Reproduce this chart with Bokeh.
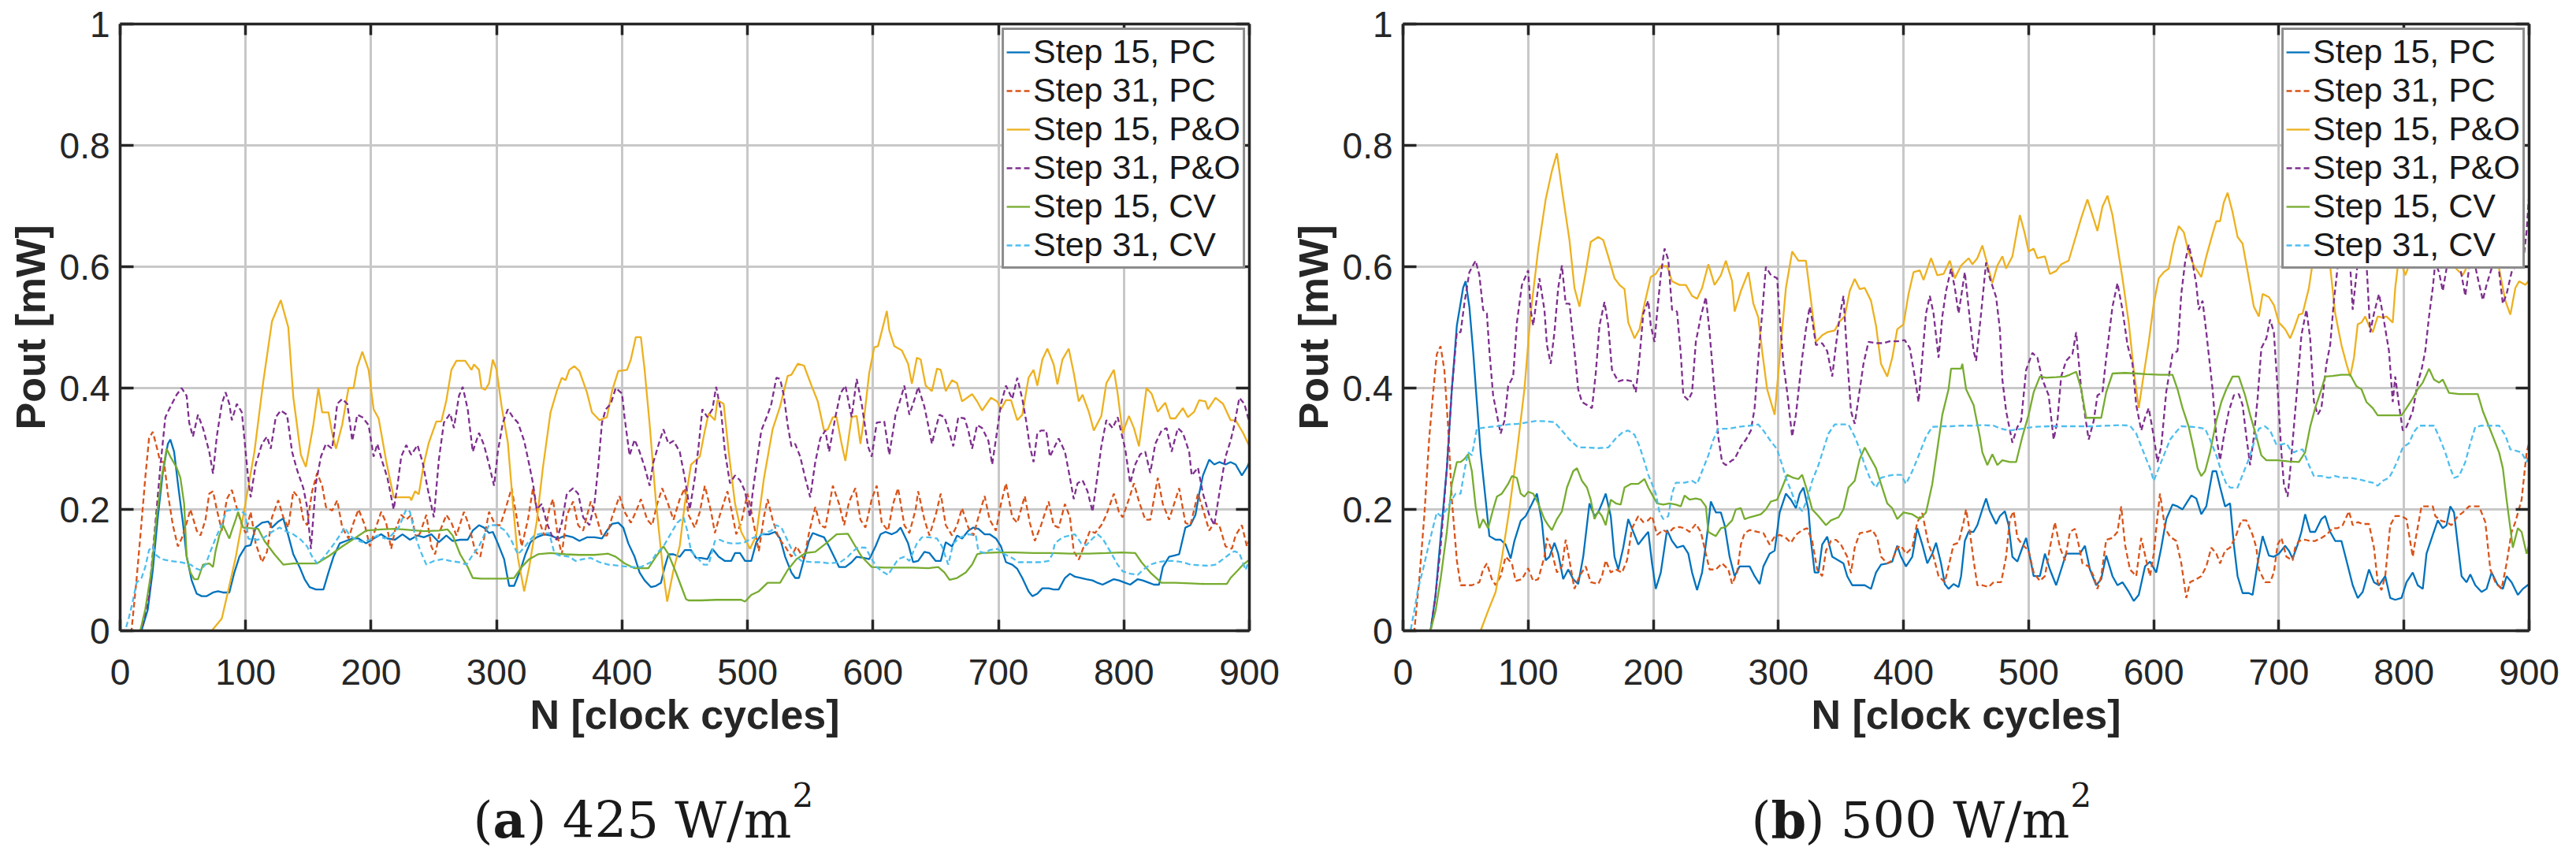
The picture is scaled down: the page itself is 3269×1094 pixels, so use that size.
from bokeh.plotting import figure
from bokeh.models import Range1d, FixedTicker, LinearAxis, Legend, LegendItem, Label
from bokeh.layouts import row, column
from bokeh.embed import file_html
from bokeh.resources import INLINE

# ---------------- data (N [clock cycles], Pout [mW]) ----------------
X_TICKS = [0, 100, 200, 300, 400, 500, 600, 700, 800, 900]
Y_TICKS = [0, 0.2, 0.4, 0.6, 0.8, 1]
Y_TICK_LABELS = {0: "0", 1: "1"}
SERIES_LABELS = ["Step 15, PC", "Step 31, PC", "Step 15, P&O", "Step 31, P&O", "Step 15, CV", "Step 31, CV"]
CAPTION_A = ("a", ") 425 W/m", "2")
CAPTION_B = ("b", ") 500 W/m", "2")

# ---- panel (a) 425 W/m2 ----
A_PC15 = [(0,0),(17,0),(22,0.035),(26,0.1),(30,0.187),(34,0.261),(38,0.308),(40,0.315),(43,0.295),(46,0.243),(50,0.178),(53,0.122),(57,0.083),(61,0.061),(65,0.057),(69,0.057),(74,0.063),(78,0.065),(82,0.063),(87,0.063),(91,0.096),(95,0.122),(100,0.139),(104,0.141),(108,0.17),(113,0.178),(118,0.18),(121,0.17),(126,0.18),(130,0.185),(134,0.157),(138,0.126),(143,0.105),(147,0.085),(151,0.072),(156,0.068),(162,0.068),(166,0.096),(170,0.122),(175,0.144),(180,0.148),(185,0.152),(190,0.152),(196,0.144),(202,0.152),(208,0.159),(213,0.152),(219,0.15),(225,0.159),(231,0.15),(237,0.157),(242,0.154),(248,0.159),(254,0.146),(260,0.157),(265,0.148),(271,0.15),(277,0.15),(281,0.165),(286,0.174),(290,0.17),(294,0.161),(297,0.163),(301,0.144),(306,0.118),(310,0.074),(314,0.074),(319,0.1),(323,0.126),(327,0.146),(332,0.154),(338,0.159),(343,0.157),(349,0.152),(355,0.157),(361,0.154),(366,0.148),(372,0.154),(378,0.154),(384,0.152),(388,0.165),(392,0.176),(397,0.178),(401,0.17),(405,0.144),(410,0.122),(414,0.096),(418,0.083),(423,0.072),(427,0.074),(431,0.079),(434,0.105),(437,0.126),(441,0.126),(446,0.122),(450,0.133),(455,0.133),(459,0.12),(463,0.12),(468,0.118),(472,0.135),(477,0.122),(482,0.115),(487,0.115),(490,0.128),(494,0.128),(498,0.115),(503,0.115),(507,0.146),(511,0.159),(517,0.159),(522,0.163),(526,0.152),(530,0.122),(535,0.096),(538,0.087),(541,0.087),(545,0.118),(549,0.148),(552,0.161),(557,0.157),(561,0.154),(565,0.139),(570,0.118),(573,0.105),(578,0.105),(583,0.113),(587,0.122),(593,0.12),(597,0.118),(602,0.139),(606,0.159),(610,0.163),(615,0.159),(619,0.163),(622,0.17),(625,0.157),(628,0.144),(632,0.113),(636,0.115),(641,0.13),(645,0.128),(650,0.115),(654,0.115),(658,0.146),(663,0.139),(667,0.157),(671,0.152),(676,0.165),(680,0.17),(684,0.168),(689,0.159),(693,0.159),(698,0.152),(702,0.139),(706,0.113),(711,0.109),(715,0.102),(719,0.087),(724,0.065),(727,0.057),(731,0.061),(735,0.07),(740,0.07),(744,0.068),(748,0.068),(753,0.087),(757,0.094),(761,0.089),(766,0.087),(770,0.085),(775,0.083),(779,0.079),(783,0.076),(788,0.081),(792,0.085),(796,0.083),(801,0.079),(805,0.076),(811,0.085),(815,0.083),(820,0.079),(824,0.076),(828,0.076),(831,0.105),(836,0.122),(840,0.124),(844,0.126),(849,0.17),(853,0.174),(857,0.191),(860,0.226),(863,0.256),(868,0.282),(872,0.274),(876,0.278),(881,0.274),(885,0.278),(889,0.274),(894,0.256),(898,0.269),(900,0.278)]

A_PC31 = [(0,0),(9,0),(13,0.083),(17,0.178),(20,0.252),(23,0.317),(26,0.328),(29,0.304),(32,0.278),(35,0.278),(38,0.226),(42,0.174),(46,0.139),(49,0.152),(53,0.178),(56,0.2),(61,0.165),(64,0.157),(68,0.183),(71,0.226),(74,0.23),(77,0.2),(81,0.165),(85,0.217),(89,0.232),(92,0.209),(97,0.174),(100,0.161),(104,0.196),(108,0.144),(113,0.113),(117,0.13),(121,0.187),(126,0.215),(130,0.187),(134,0.17),(138,0.23),(143,0.217),(146,0.183),(149,0.174),(153,0.23),(157,0.26),(161,0.239),(164,0.204),(169,0.198),(173,0.215),(177,0.17),(182,0.152),(186,0.178),(190,0.2),(195,0.174),(199,0.139),(203,0.165),(208,0.196),(212,0.178),(216,0.135),(219,0.165),(224,0.191),(228,0.183),(232,0.191),(236,0.152),(239,0.161),(244,0.191),(248,0.139),(251,0.126),(255,0.165),(260,0.191),(264,0.178),(268,0.157),(274,0.196),(278,0.174),(283,0.131),(287,0.122),(290,0.152),(294,0.196),(299,0.174),(303,0.174),(307,0.2),(312,0.235),(316,0.187),(320,0.139),(325,0.183),(329,0.235),(333,0.187),(338,0.157),(342,0.2),(345,0.217),(349,0.152),(352,0.126),(356,0.191),(361,0.213),(365,0.174),(369,0.165),(375,0.213),(379,0.191),(384,0.157),(388,0.157),(392,0.187),(398,0.222),(402,0.196),(407,0.178),(411,0.196),(415,0.217),(420,0.183),(424,0.174),(428,0.209),(432,0.235),(436,0.213),(441,0.183),(446,0.217),(450,0.235),(453,0.191),(458,0.17),(462,0.196),(466,0.239),(471,0.196),(474,0.161),(478,0.191),(484,0.23),(488,0.191),(491,0.159),(495,0.178),(500,0.226),(504,0.187),(509,0.131),(513,0.187),(516,0.217),(520,0.183),(525,0.152),(530,0.139),(535,0.122),(539,0.139),(545,0.118),(549,0.161),(554,0.204),(558,0.174),(562,0.17),(568,0.239),(573,0.209),(577,0.174),(581,0.213),(586,0.235),(590,0.183),(594,0.17),(599,0.217),(603,0.239),(607,0.178),(612,0.165),(616,0.209),(620,0.235),(625,0.174),(629,0.161),(634,0.2),(636,0.23),(641,0.183),(645,0.157),(650,0.191),(654,0.226),(658,0.174),(663,0.157),(667,0.174),(671,0.202),(676,0.17),(680,0.157),(684,0.187),(689,0.222),(693,0.183),(698,0.165),(702,0.209),(706,0.243),(711,0.187),(715,0.178),(721,0.222),(725,0.178),(729,0.148),(734,0.174),(740,0.213),(744,0.174),(748,0.17),(753,0.209),(757,0.187),(760,0.131),(764,0.117),(769,0.144),(773,0.165),(777,0.161),(782,0.174),(786,0.191),(792,0.226),(796,0.196),(799,0.187),(804,0.217),(808,0.243),(812,0.213),(817,0.183),(821,0.183),(827,0.252),(831,0.209),(836,0.183),(840,0.209),(844,0.235),(849,0.178),(853,0.174),(859,0.226),(863,0.2),(868,0.165),(872,0.178),(876,0.174),(881,0.139),(886,0.135),(889,0.157),(894,0.174),(898,0.139),(900,0.15)]

A_PO15 = [(0,0),(73,0),(81,0.02),(86,0.065),(92,0.12),(99,0.2),(107,0.295),(114,0.41),(121,0.51),(128,0.545),(134,0.5),(138,0.385),(144,0.29),(148,0.27),(154,0.34),(158,0.4),(161,0.36),(166,0.36),(169,0.325),(172,0.3),(177,0.34),(182,0.4),(186,0.4),(189,0.435),(193,0.46),(198,0.43),(202,0.365),(206,0.35),(212,0.28),(218,0.22),(222,0.22),(231,0.22),(232,0.215),(235,0.23),(238,0.225),(242,0.275),(246,0.31),(252,0.345),(256,0.345),(260,0.38),(264,0.43),(268,0.445),(275,0.445),(280,0.43),(282,0.439),(286,0.43),(288,0.4),(291,0.397),(294,0.408),(297,0.447),(300,0.43),(304,0.37),(309,0.31),(313,0.21),(317,0.12),(322,0.065),(326,0.105),(332,0.18),(337,0.27),(343,0.36),(348,0.395),(352,0.417),(355,0.413),(358,0.43),(362,0.436),(366,0.428),(372,0.393),(376,0.36),(382,0.347),(388,0.352),(392,0.395),(397,0.428),(404,0.43),(407,0.447),(411,0.484),(415,0.484),(418,0.43),(422,0.34),(427,0.213),(433,0.092),(436,0.048),(441,0.1),(446,0.14),(450,0.209),(455,0.274),(462,0.287),(466,0.33),(469,0.358),(474,0.347),(476,0.38),(481,0.374),(485,0.295),(490,0.21),(495,0.163),(502,0.135),(507,0.157),(513,0.25),(520,0.332),(526,0.37),(532,0.42),(535,0.422),(540,0.44),(545,0.437),(551,0.404),(556,0.378),(561,0.33),(564,0.332),(568,0.352),(571,0.352),(575,0.308),(578,0.28),(583,0.352),(587,0.354),(590,0.308),(593,0.352),(597,0.425),(601,0.467),(604,0.469),(609,0.51),(611,0.527),(613,0.495),(617,0.469),(623,0.462),(628,0.44),(631,0.407),(635,0.45),(638,0.447),(642,0.404),(647,0.395),(651,0.432),(654,0.43),(658,0.395),(663,0.413),(667,0.408),(671,0.378),(679,0.39),(683,0.378),(687,0.363),(694,0.384),(699,0.378),(702,0.365),(706,0.38),(710,0.38),(715,0.347),(719,0.356),(724,0.417),(728,0.43),(731,0.404),(735,0.447),(739,0.465),(744,0.439),(747,0.406),(751,0.447),(756,0.465),(760,0.425),(764,0.378),(767,0.389),(772,0.361),(776,0.33),(782,0.354),(786,0.408),(792,0.43),(795,0.391),(799,0.326),(804,0.354),(808,0.334),(812,0.304),(818,0.4),(822,0.391),(827,0.361),(833,0.376),(837,0.35),(841,0.35),(847,0.367),(851,0.352),(856,0.361),(860,0.38),(865,0.378),(867,0.365),(873,0.384),(879,0.374),(885,0.347),(889,0.347),(895,0.326),(900,0.304)]

A_PO31 = [(0,0),(17,0),(23,0.057),(27,0.152),(32,0.27),(36,0.352),(40,0.369),(45,0.389),(49,0.4),(53,0.387),(55,0.343),(58,0.32),(62,0.356),(66,0.334),(71,0.295),(74,0.259),(77,0.32),(81,0.374),(84,0.393),(87,0.374),(89,0.347),(93,0.374),(97,0.36),(100,0.295),(102,0.252),(104,0.22),(108,0.274),(113,0.308),(117,0.32),(120,0.3),(124,0.352),(128,0.363),(133,0.356),(137,0.295),(141,0.265),(146,0.235),(149,0.204),(152,0.135),(156,0.243),(160,0.287),(164,0.308),(169,0.3),(173,0.374),(177,0.382),(181,0.374),(185,0.313),(189,0.356),(193,0.352),(198,0.339),(202,0.287),(205,0.308),(209,0.278),(213,0.252),(218,0.2),(221,0.239),(224,0.287),(228,0.306),(232,0.29),(237,0.306),(241,0.278),(245,0.235),(250,0.187),(254,0.282),(258,0.343),(263,0.358),(266,0.334),(270,0.387),(273,0.402),(277,0.365),(281,0.295),(286,0.326),(290,0.306),(294,0.274),(298,0.239),(301,0.295),(305,0.343),(309,0.365),(313,0.352),(317,0.343),(322,0.313),(326,0.274),(329,0.243),(332,0.2),(336,0.209),(340,0.178),(344,0.157),(348,0.15),(352,0.178),(356,0.226),(361,0.235),(365,0.226),(369,0.187),(374,0.174),(378,0.209),(381,0.27),(384,0.343),(387,0.365),(391,0.374),(395,0.4),(400,0.391),(402,0.352),(406,0.289),(410,0.315),(414,0.295),(418,0.27),(422,0.239),(425,0.278),(430,0.313),(433,0.332),(437,0.308),(441,0.313),(446,0.295),(450,0.252),(454,0.2),(458,0.252),(461,0.304),(464,0.365),(468,0.352),(472,0.365),(475,0.402),(479,0.36),(482,0.295),(486,0.243),(490,0.256),(494,0.248),(498,0.23),(502,0.187),(504,0.226),(508,0.287),(511,0.33),(516,0.356),(519,0.374),(523,0.417),(526,0.415),(529,0.387),(532,0.339),(535,0.304),(538,0.308),(542,0.287),(546,0.252),(550,0.22),(554,0.278),(558,0.317),(562,0.33),(565,0.295),(570,0.352),(574,0.391),(578,0.404),(583,0.352),(587,0.415),(591,0.374),(596,0.304),(599,0.287),(603,0.343),(609,0.345),(613,0.29),(618,0.356),(622,0.382),(625,0.404),(629,0.356),(634,0.387),(636,0.402),(641,0.369),(644,0.339),(647,0.308),(650,0.334),(653,0.356),(657,0.352),(661,0.326),(664,0.304),(668,0.352),(673,0.35),(676,0.33),(679,0.3),(683,0.339),(687,0.334),(692,0.313),(695,0.274),(699,0.33),(702,0.374),(706,0.404),(711,0.382),(715,0.417),(719,0.382),(722,0.347),(725,0.304),(728,0.278),(731,0.326),(734,0.33),(738,0.33),(741,0.287),(744,0.3),(748,0.317),(753,0.295),(757,0.252),(760,0.217),(763,0.243),(767,0.248),(771,0.23),(775,0.196),(777,0.226),(782,0.304),(786,0.347),(791,0.334),(795,0.352),(798,0.326),(801,0.3),(805,0.243),(809,0.274),(813,0.291),(817,0.295),(821,0.26),(825,0.308),(830,0.33),(834,0.334),(838,0.295),(843,0.334),(847,0.326),(852,0.295),(854,0.256),(859,0.269),(863,0.226),(868,0.191),(872,0.174),(876,0.226),(881,0.287),(885,0.313),(888,0.339),(892,0.384),(896,0.374),(900,0.343)]

A_CV15 = [(0,0),(16,0),(20,0.035),(25,0.1),(29,0.187),(33,0.252),(37,0.3),(40,0.287),(45,0.269),(48,0.252),(51,0.209),(53,0.122),(56,0.096),(59,0.085),(62,0.085),(66,0.109),(71,0.111),(74,0.105),(76,0.131),(79,0.157),(82,0.174),(87,0.152),(89,0.165),(92,0.183),(94,0.196),(98,0.17),(104,0.169),(110,0.168),(115,0.148),(123,0.126),(130,0.109),(138,0.111),(147,0.111),(157,0.111),(167,0.124),(177,0.139),(188,0.154),(196,0.165),(208,0.167),(219,0.168),(231,0.166),(242,0.164),(254,0.165),(261,0.167),(265,0.157),(271,0.126),(277,0.105),(281,0.087),(288,0.086),(297,0.086),(306,0.086),(314,0.087),(320,0.105),(326,0.118),(333,0.126),(343,0.128),(355,0.126),(366,0.125),(378,0.125),(389,0.127),(395,0.122),(402,0.111),(410,0.103),(421,0.103),(427,0.122),(433,0.139),(437,0.126),(443,0.096),(447,0.074),(451,0.052),(453,0.05),(463,0.05),(475,0.051),(487,0.051),(495,0.051),(498,0.048),(503,0.059),(509,0.065),(516,0.079),(526,0.079),(532,0.1),(539,0.118),(546,0.128),(554,0.13),(562,0.143),(571,0.159),(580,0.16),(586,0.139),(591,0.122),(599,0.105),(609,0.104),(620,0.104),(632,0.104),(644,0.103),(652,0.105),(657,0.096),(661,0.084),(667,0.087),(674,0.096),(679,0.109),(683,0.126),(687,0.128),(699,0.129),(713,0.129),(728,0.128),(743,0.128),(757,0.127),(772,0.127),(786,0.128),(798,0.129),(809,0.128),(814,0.113),(821,0.096),(830,0.079),(841,0.079),(853,0.078),(865,0.077),(882,0.077),(885,0.087),(891,0.1),(895,0.109),(900,0.117)]

A_CV31 = [(0,0),(4,0),(7,0.022),(10,0.048),(13,0.079),(17,0.087),(20,0.105),(23,0.133),(26,0.139),(29,0.124),(33,0.118),(40,0.115),(48,0.113),(52,0.111),(56,0.109),(61,0.102),(64,0.1),(68,0.109),(72,0.131),(76,0.152),(81,0.176),(85,0.198),(89,0.199),(95,0.2),(100,0.191),(102,0.152),(105,0.15),(110,0.15),(115,0.154),(121,0.163),(127,0.17),(133,0.163),(138,0.159),(144,0.15),(149,0.139),(153,0.122),(157,0.111),(162,0.12),(166,0.131),(170,0.142),(175,0.157),(179,0.17),(183,0.157),(188,0.15),(193,0.146),(199,0.15),(205,0.157),(211,0.152),(216,0.157),(222,0.17),(228,0.2),(231,0.196),(235,0.157),(239,0.133),(244,0.109),(250,0.115),(257,0.118),(263,0.115),(270,0.113),(276,0.109),(280,0.122),(286,0.139),(290,0.157),(294,0.174),(299,0.174),(303,0.17),(307,0.165),(312,0.148),(314,0.139),(317,0.126),(322,0.137),(326,0.148),(330,0.157),(335,0.16),(342,0.161),(346,0.128),(350,0.124),(358,0.122),(363,0.115),(369,0.118),(375,0.12),(382,0.113),(389,0.109),(398,0.107),(407,0.105),(415,0.105),(423,0.113),(427,0.126),(433,0.139),(438,0.157),(444,0.178),(449,0.187),(452,0.165),(455,0.131),(461,0.118),(465,0.109),(469,0.109),(474,0.148),(478,0.15),(482,0.146),(487,0.144),(493,0.144),(498,0.146),(503,0.152),(509,0.157),(514,0.161),(519,0.165),(523,0.174),(527,0.17),(530,0.157),(535,0.135),(539,0.122),(543,0.115),(551,0.113),(558,0.113),(565,0.111),(574,0.113),(580,0.122),(584,0.131),(588,0.137),(594,0.137),(599,0.118),(603,0.105),(607,0.098),(612,0.092),(616,0.105),(620,0.118),(625,0.122),(629,0.115),(635,0.144),(639,0.154),(645,0.154),(651,0.152),(655,0.139),(660,0.109),(664,0.144),(670,0.154),(676,0.159),(682,0.157),(684,0.131),(689,0.128),(693,0.133),(699,0.135),(705,0.126),(711,0.12),(716,0.113),(725,0.113),(734,0.113),(740,0.115),(743,0.126),(745,0.144),(751,0.154),(757,0.157),(761,0.159),(766,0.144),(770,0.141),(775,0.152),(779,0.159),(783,0.152),(789,0.131),(795,0.109),(799,0.098),(805,0.094),(811,0.092),(815,0.1),(821,0.109),(827,0.113),(833,0.115),(840,0.115),(847,0.113),(853,0.109),(860,0.108),(868,0.107),(873,0.109),(879,0.118),(884,0.126),(888,0.131),(892,0.128),(897,0.1),(900,0.118)]

# ---- panel (b) 500 W/m2 ----
B_PC15 = [(0,0),(22,0),(26,0.059),(30,0.153),(35,0.268),(39,0.398),(43,0.503),(48,0.565),(50,0.576),(53,0.534),(56,0.461),(59,0.377),(62,0.294),(66,0.216),(69,0.156),(74,0.15),(78,0.15),(82,0.142),(86,0.119),(89,0.148),(94,0.181),(98,0.189),(102,0.205),(107,0.226),(111,0.179),(114,0.116),(117,0.122),(121,0.145),(124,0.127),(128,0.085),(132,0.101),(136,0.085),(140,0.077),(144,0.122),(149,0.21),(153,0.189),(156,0.195),(159,0.21),(162,0.226),(166,0.189),(169,0.122),(172,0.101),(176,0.137),(180,0.184),(185,0.158),(188,0.142),(192,0.153),(196,0.163),(199,0.111),(202,0.069),(206,0.096),(211,0.166),(215,0.148),(219,0.137),(224,0.14),(228,0.127),(231,0.096),(235,0.067),(239,0.096),(243,0.158),(246,0.213),(250,0.195),(254,0.195),(257,0.174),(261,0.122),(265,0.09),(269,0.106),(273,0.106),(277,0.106),(281,0.09),(285,0.077),(288,0.106),(293,0.127),(297,0.132),(301,0.195),(306,0.226),(310,0.216),(314,0.202),(317,0.226),(320,0.236),(324,0.2),(326,0.148),(329,0.096),(332,0.096),(335,0.142),(339,0.155),(343,0.122),(348,0.116),(352,0.111),(355,0.09),(359,0.075),(363,0.075),(369,0.075),(374,0.069),(378,0.096),(382,0.109),(387,0.111),(391,0.114),(395,0.14),(398,0.122),(402,0.106),(407,0.122),(411,0.169),(415,0.142),(419,0.111),(423,0.127),(426,0.145),(430,0.111),(433,0.077),(436,0.069),(440,0.077),(444,0.072),(446,0.09),(449,0.148),(452,0.163),(456,0.163),(459,0.174),(463,0.2),(466,0.218),(469,0.197),(474,0.176),(477,0.189),(481,0.197),(484,0.174),(487,0.122),(491,0.114),(495,0.137),(498,0.153),(501,0.122),(504,0.09),(509,0.09),(513,0.127),(517,0.101),(522,0.075),(526,0.101),(530,0.127),(536,0.127),(541,0.127),(545,0.14),(549,0.101),(554,0.075),(558,0.085),(562,0.124),(567,0.09),(571,0.075),(575,0.08),(580,0.064),(584,0.049),(588,0.059),(593,0.106),(597,0.114),(602,0.096),(606,0.137),(610,0.184),(615,0.208),(619,0.205),(623,0.2),(626,0.21),(630,0.223),(634,0.218),(638,0.192),(642,0.205),(647,0.263),(650,0.263),(653,0.237),(657,0.205),(661,0.21),(664,0.142),(667,0.09),(671,0.062),(676,0.062),(679,0.059),(683,0.111),(687,0.156),(692,0.124),(696,0.122),(700,0.127),(705,0.14),(708,0.132),(711,0.119),(715,0.142),(718,0.163),(721,0.192),(725,0.163),(729,0.163),(734,0.184),(737,0.189),(741,0.163),(745,0.148),(750,0.148),(754,0.116),(759,0.075),(763,0.054),(767,0.064),(772,0.101),(776,0.08),(780,0.075),(785,0.09),(789,0.054),(793,0.051),(798,0.054),(802,0.08),(807,0.096),(811,0.075),(815,0.069),(818,0.127),(823,0.158),(827,0.182),(831,0.169),(834,0.174),(837,0.205),(840,0.195),(843,0.142),(846,0.09),(850,0.08),(853,0.093),(857,0.075),(862,0.064),(866,0.069),(870,0.096),(875,0.075),(879,0.069),(882,0.09),(886,0.08),(891,0.059),(895,0.069),(900,0.077)]

B_PC31 = [(0,0),(9,0),(13,0.085),(17,0.19),(21,0.32),(25,0.414),(27,0.456),(30,0.469),(33,0.43),(36,0.336),(39,0.216),(43,0.116),(46,0.075),(51,0.075),(55,0.075),(61,0.08),(64,0.101),(67,0.111),(71,0.085),(74,0.075),(78,0.09),(82,0.122),(87,0.111),(90,0.082),(95,0.085),(100,0.103),(104,0.082),(108,0.085),(113,0.122),(115,0.153),(118,0.137),(123,0.096),(127,0.106),(130,0.15),(133,0.116),(137,0.069),(141,0.09),(146,0.106),(150,0.08),(156,0.077),(159,0.09),(162,0.116),(166,0.096),(170,0.101),(175,0.096),(179,0.116),(183,0.169),(188,0.189),(192,0.179),(196,0.182),(199,0.189),(203,0.158),(208,0.166),(212,0.161),(216,0.169),(221,0.171),(225,0.169),(229,0.163),(234,0.176),(238,0.163),(242,0.127),(245,0.101),(250,0.101),(255,0.111),(260,0.101),(263,0.077),(267,0.096),(270,0.142),(273,0.161),(277,0.166),(283,0.163),(288,0.161),(293,0.142),(297,0.155),(301,0.158),(306,0.153),(310,0.145),(314,0.158),(319,0.166),(323,0.169),(327,0.148),(331,0.101),(335,0.09),(338,0.132),(342,0.148),(346,0.15),(350,0.142),(355,0.122),(358,0.095),(361,0.137),(365,0.161),(371,0.163),(375,0.166),(379,0.153),(382,0.122),(387,0.111),(391,0.116),(395,0.137),(398,0.14),(402,0.127),(407,0.137),(411,0.179),(415,0.194),(420,0.142),(424,0.122),(428,0.09),(433,0.08),(436,0.106),(440,0.142),(444,0.145),(448,0.179),(450,0.2),(453,0.163),(456,0.116),(459,0.075),(463,0.075),(468,0.072),(472,0.08),(478,0.08),(482,0.122),(485,0.184),(488,0.197),(491,0.153),(495,0.142),(500,0.132),(504,0.096),(509,0.082),(513,0.09),(517,0.137),(521,0.179),(525,0.137),(529,0.116),(533,0.163),(537,0.168),(540,0.142),(543,0.111),(548,0.106),(552,0.09),(555,0.069),(558,0.09),(562,0.15),(567,0.153),(571,0.163),(574,0.205),(577,0.142),(581,0.101),(586,0.09),(590,0.153),(594,0.116),(597,0.09),(600,0.127),(603,0.189),(605,0.226),(609,0.169),(613,0.155),(618,0.148),(622,0.111),(626,0.054),(629,0.08),(634,0.085),(638,0.09),(642,0.106),(646,0.137),(650,0.127),(653,0.111),(657,0.132),(661,0.137),(666,0.158),(670,0.182),(674,0.182),(679,0.158),(682,0.137),(684,0.101),(689,0.08),(693,0.08),(696,0.096),(699,0.142),(702,0.153),(706,0.122),(711,0.116),(713,0.137),(716,0.148),(721,0.15),(725,0.148),(729,0.148),(734,0.153),(738,0.158),(743,0.169),(747,0.169),(751,0.174),(756,0.197),(759,0.174),(763,0.179),(767,0.176),(772,0.176),(776,0.137),(779,0.08),(782,0.067),(785,0.09),(789,0.174),(793,0.189),(798,0.189),(802,0.184),(807,0.122),(809,0.148),(814,0.205),(818,0.205),(823,0.205),(825,0.189),(830,0.181),(834,0.179),(838,0.174),(843,0.189),(847,0.195),(852,0.205),(856,0.205),(860,0.205),(865,0.179),(869,0.101),(873,0.08),(878,0.069),(882,0.111),(886,0.163),(889,0.179),(894,0.216),(898,0.294),(900,0.31)]

B_PO15 = [(0,0),(62,0),(68,0.033),(74,0.064),(79,0.12),(85,0.2),(91,0.294),(97,0.398),(102,0.523),(108,0.628),(114,0.711),(119,0.758),(123,0.787),(127,0.727),(133,0.644),(137,0.565),(141,0.534),(146,0.591),(150,0.641),(156,0.649),(160,0.644),(164,0.617),(169,0.581),(173,0.57),(177,0.563),(180,0.508),(185,0.482),(189,0.497),(193,0.539),(198,0.583),(202,0.588),(206,0.601),(211,0.601),(215,0.576),(221,0.57),(226,0.57),(231,0.552),(235,0.547),(239,0.565),(244,0.604),(249,0.57),(254,0.586),(258,0.61),(263,0.576),(265,0.526),(270,0.56),(276,0.591),(280,0.539),(284,0.516),(287,0.461),(291,0.398),(297,0.356),(301,0.45),(306,0.565),(311,0.625),(316,0.61),(322,0.61),(326,0.545),(330,0.476),(335,0.487),(339,0.492),(345,0.495),(349,0.51),(353,0.518),(357,0.56),(361,0.58),(365,0.563),(369,0.565),(374,0.544),(378,0.503),(382,0.44),(387,0.419),(391,0.45),(395,0.497),(400,0.505),(404,0.555),(408,0.591),(413,0.594),(416,0.578),(422,0.614),(427,0.586),(432,0.588),(437,0.61),(441,0.581),(446,0.602),(452,0.614),(455,0.604),(459,0.614),(463,0.635),(466,0.612),(471,0.573),(475,0.602),(479,0.617),(482,0.597),(487,0.617),(493,0.685),(497,0.654),(500,0.625),(504,0.63),(507,0.614),(513,0.617),(517,0.588),(522,0.593),(526,0.604),(532,0.61),(536,0.638),(542,0.68),(547,0.711),(551,0.685),(555,0.659),(559,0.699),(563,0.717),(567,0.685),(571,0.633),(575,0.581),(580,0.508),(584,0.43),(588,0.367),(591,0.409),(596,0.476),(600,0.539),(604,0.581),(608,0.591),(612,0.597),(616,0.638),(620,0.667),(624,0.657),(628,0.623),(632,0.602),(638,0.583),(642,0.617),(647,0.654),(650,0.675),(653,0.675),(656,0.706),(659,0.722),(663,0.69),(667,0.649),(671,0.638),(676,0.581),(680,0.534),(684,0.518),(687,0.555),(692,0.55),(696,0.537),(700,0.508),(705,0.497),(709,0.482),(712,0.497),(716,0.521),(719,0.523),(724,0.565),(727,0.607),(730,0.64),(735,0.66),(740,0.62),(745,0.523),(750,0.471),(754,0.44),(757,0.419),(760,0.45),(763,0.505),(766,0.508),(769,0.518),(772,0.503),(775,0.492),(779,0.518),(783,0.516),(786,0.518),(791,0.508),(793,0.565),(796,0.617),(801,0.586),(804,0.602),(812,0.64),(820,0.66),(830,0.62),(840,0.6),(847,0.586),(852,0.607),(860,0.62),(870,0.62),(876,0.597),(881,0.544),(885,0.521),(889,0.565),(892,0.576),(897,0.57),(900,0.578)]

B_PO31 = [(0,0),(22,0),(26,0.059),(30,0.137),(35,0.268),(39,0.398),(43,0.492),(46,0.492),(49,0.539),(53,0.591),(58,0.61),(61,0.586),(64,0.529),(67,0.523),(69,0.461),(72,0.388),(75,0.356),(78,0.325),(81,0.346),(84,0.403),(88,0.419),(91,0.508),(95,0.57),(100,0.594),(102,0.529),(104,0.503),(109,0.581),(113,0.529),(115,0.471),(118,0.44),(121,0.492),(124,0.565),(127,0.602),(130,0.539),(133,0.539),(137,0.461),(140,0.398),(143,0.377),(147,0.372),(151,0.367),(154,0.424),(157,0.503),(161,0.542),(164,0.503),(167,0.43),(172,0.411),(177,0.414),(183,0.411),(186,0.393),(189,0.45),(192,0.523),(196,0.544),(198,0.503),(201,0.476),(203,0.523),(206,0.586),(209,0.63),(212,0.612),(215,0.529),(219,0.526),(222,0.456),(224,0.388),(228,0.38),(231,0.393),(234,0.476),(238,0.518),(242,0.55),(245,0.492),(249,0.393),(252,0.319),(255,0.278),(258,0.273),(263,0.281),(265,0.283),(270,0.304),(274,0.315),(278,0.33),(281,0.367),(284,0.45),(287,0.523),(290,0.6),(294,0.586),(299,0.581),(301,0.518),(304,0.44),(307,0.393),(311,0.32),(314,0.356),(319,0.45),(322,0.497),(325,0.534),(327,0.513),(330,0.471),(335,0.474),(339,0.461),(343,0.419),(346,0.471),(349,0.518),(352,0.552),(355,0.45),(358,0.362),(361,0.341),(364,0.383),(368,0.44),(372,0.476),(378,0.474),(384,0.474),(389,0.477),(395,0.477),(401,0.479),(405,0.466),(409,0.419),(412,0.377),(415,0.45),(418,0.523),(421,0.552),(424,0.523),(428,0.45),(431,0.518),(434,0.56),(438,0.597),(441,0.565),(444,0.523),(449,0.591),(453,0.513),(456,0.461),(458,0.445),(462,0.523),(466,0.607),(469,0.581),(474,0.55),(477,0.497),(479,0.414),(482,0.362),(487,0.31),(491,0.336),(494,0.346),(498,0.43),(503,0.458),(507,0.45),(511,0.414),(516,0.388),(520,0.315),(523,0.346),(526,0.419),(530,0.445),(535,0.456),(538,0.492),(542,0.398),(545,0.356),(548,0.315),(552,0.346),(555,0.388),(559,0.393),(562,0.45),(567,0.534),(571,0.573),(575,0.529),(579,0.471),(583,0.44),(586,0.372),(590,0.33),(593,0.351),(596,0.367),(600,0.32),(603,0.278),(606,0.304),(610,0.394),(615,0.456),(619,0.461),(622,0.555),(625,0.607),(628,0.636),(631,0.607),(634,0.571),(636,0.529),(639,0.544),(642,0.492),(647,0.398),(650,0.32),(653,0.281),(656,0.32),(660,0.362),(664,0.388),(668,0.39),(671,0.372),(674,0.32),(677,0.273),(680,0.32),(683,0.383),(686,0.466),(690,0.482),(693,0.513),(696,0.492),(699,0.398),(702,0.294),(704,0.242),(707,0.221),(709,0.263),(712,0.336),(715,0.409),(718,0.487),(722,0.529),(725,0.482),(728,0.378),(731,0.356),(734,0.367),(738,0.44),(741,0.471),(744,0.544),(747,0.6),(750,0.61),(754,0.607),(757,0.602),(759,0.529),(763,0.607),(766,0.612),(770,0.607),(773,0.492),(776,0.523),(780,0.555),(783,0.523),(788,0.461),(791,0.377),(793,0.419),(796,0.372),(799,0.33),(802,0.336),(807,0.362),(811,0.409),(814,0.43),(817,0.461),(820,0.518),(823,0.565),(825,0.607),(828,0.591),(831,0.56),(834,0.597),(837,0.62),(843,0.62),(846,0.586),(849,0.552),(852,0.597),(856,0.61),(859,0.581),(863,0.545),(866,0.57),(870,0.597),(875,0.61),(879,0.539),(882,0.555),(886,0.591),(891,0.607),(895,0.602),(898,0.659),(900,0.72)]

B_CV15 = [(0,0),(22,0),(26,0.033),(30,0.085),(35,0.163),(39,0.242),(43,0.278),(46,0.278),(49,0.283),(52,0.291),(55,0.263),(58,0.205),(61,0.169),(64,0.184),(68,0.169),(72,0.2),(75,0.221),(79,0.226),(84,0.242),(87,0.255),(91,0.252),(94,0.226),(97,0.221),(100,0.229),(104,0.226),(108,0.21),(113,0.184),(116,0.174),(119,0.166),(123,0.184),(127,0.197),(131,0.236),(136,0.263),(139,0.268),(143,0.247),(147,0.236),(150,0.216),(153,0.184),(156,0.197),(159,0.189),(162,0.174),(166,0.216),(170,0.21),(174,0.208),(177,0.236),(182,0.242),(188,0.242),(193,0.25),(196,0.236),(200,0.221),(203,0.21),(208,0.208),(213,0.21),(218,0.208),(222,0.205),(225,0.223),(229,0.216),(234,0.218),(238,0.216),(242,0.205),(244,0.163),(248,0.158),(250,0.156),(254,0.169),(258,0.171),(263,0.182),(266,0.2),(270,0.202),(273,0.184),(277,0.187),(281,0.189),(286,0.192),(290,0.2),(294,0.213),(299,0.216),(303,0.236),(307,0.257),(312,0.252),(316,0.25),(319,0.257),(323,0.231),(327,0.2),(332,0.189),(338,0.174),(342,0.182),(348,0.187),(352,0.2),(356,0.236),(361,0.247),(365,0.283),(369,0.302),(374,0.283),(378,0.268),(382,0.242),(387,0.21),(391,0.202),(395,0.184),(400,0.195),(407,0.192),(413,0.184),(418,0.195),(423,0.242),(427,0.299),(431,0.356),(436,0.398),(438,0.432),(446,0.432),(447,0.44),(450,0.398),(456,0.372),(461,0.32),(463,0.294),(467,0.273),(471,0.291),(475,0.273),(479,0.281),(485,0.278),(490,0.278),(495,0.32),(500,0.356),(504,0.393),(509,0.419),(514,0.417),(522,0.418),(529,0.419),(533,0.422),(538,0.427),(542,0.398),(546,0.351),(552,0.351),(558,0.351),(562,0.393),(567,0.424),(577,0.425),(586,0.424),(594,0.423),(605,0.422),(615,0.422),(619,0.398),(623,0.367),(628,0.336),(632,0.299),(635,0.268),(638,0.255),(641,0.263),(645,0.294),(650,0.346),(654,0.377),(658,0.398),(663,0.419),(668,0.419),(673,0.388),(677,0.356),(682,0.32),(686,0.289),(690,0.281),(699,0.281),(708,0.279),(716,0.278),(721,0.294),(725,0.336),(729,0.367),(734,0.398),(737,0.419),(743,0.42),(750,0.422),(757,0.422),(762,0.403),(766,0.398),(770,0.377),(775,0.367),(779,0.355),(788,0.355),(798,0.355),(802,0.367),(807,0.383),(811,0.398),(815,0.409),(820,0.432),(824,0.414),(828,0.409),(831,0.414),(836,0.392),(844,0.39),(853,0.39),(859,0.39),(863,0.362),(868,0.336),(872,0.315),(876,0.294),(879,0.268),(882,0.216),(885,0.169),(887,0.137),(891,0.169),(894,0.163),(898,0.127),(900,0.142)]

B_CV31 = [(0,0),(6,0),(9,0.033),(12,0.069),(16,0.101),(20,0.137),(25,0.179),(27,0.195),(30,0.189),(35,0.2),(39,0.216),(42,0.226),(46,0.226),(49,0.263),(52,0.294),(55,0.289),(59,0.333),(66,0.335),(75,0.337),(84,0.34),(92,0.341),(101,0.344),(107,0.346),(115,0.345),(121,0.344),(127,0.33),(133,0.315),(140,0.302),(147,0.302),(156,0.301),(164,0.302),(170,0.317),(176,0.328),(180,0.33),(185,0.323),(189,0.304),(193,0.278),(196,0.257),(199,0.242),(202,0.226),(205,0.195),(208,0.184),(212,0.189),(215,0.226),(218,0.244),(225,0.244),(231,0.247),(235,0.242),(239,0.263),(244,0.289),(248,0.315),(252,0.333),(260,0.333),(268,0.336),(277,0.338),(284,0.34),(288,0.33),(293,0.315),(299,0.299),(303,0.273),(306,0.252),(310,0.231),(314,0.21),(319,0.197),(323,0.216),(327,0.247),(332,0.273),(336,0.299),(340,0.325),(345,0.34),(350,0.34),(356,0.34),(361,0.32),(365,0.299),(369,0.273),(374,0.247),(378,0.236),(382,0.252),(387,0.255),(392,0.257),(398,0.257),(402,0.242),(407,0.263),(411,0.283),(415,0.304),(418,0.32),(423,0.336),(430,0.337),(438,0.337),(446,0.338),(455,0.338),(463,0.339),(472,0.338),(478,0.333),(485,0.33),(495,0.333),(504,0.336),(516,0.337),(527,0.337),(539,0.337),(551,0.337),(562,0.338),(574,0.339),(581,0.338),(586,0.325),(590,0.304),(594,0.283),(597,0.268),(600,0.247),(604,0.268),(609,0.294),(613,0.315),(618,0.328),(622,0.337),(632,0.336),(641,0.333),(645,0.315),(650,0.289),(654,0.263),(658,0.242),(661,0.236),(667,0.236),(671,0.257),(676,0.283),(680,0.309),(684,0.333),(689,0.337),(693,0.33),(698,0.307),(702,0.307),(706,0.309),(709,0.299),(712,0.294),(715,0.297),(719,0.299),(724,0.273),(728,0.255),(734,0.255),(740,0.252),(745,0.255),(751,0.252),(757,0.252),(763,0.25),(769,0.247),(775,0.244),(779,0.239),(783,0.247),(788,0.252),(791,0.263),(795,0.281),(799,0.302),(804,0.309),(808,0.328),(812,0.338),(818,0.338),(824,0.338),(828,0.32),(833,0.294),(837,0.268),(840,0.252),(844,0.255),(849,0.278),(853,0.309),(857,0.336),(862,0.338),(869,0.338),(876,0.338),(881,0.322),(885,0.299),(889,0.297),(894,0.294),(898,0.278),(900,0.289)]

PANEL_A = [A_PC15, A_PC31, A_PO15, A_PO31, A_CV15, A_CV31]
PANEL_B = [B_PC15, B_PC31, B_PO15, B_PO31, B_CV15, B_CV31]

# ---------------- styling ----------------
COLORS = ["#0072BD", "#D95319", "#EDB120", "#7E2F8E", "#77AC30", "#4DBEEE"]
DASHES = ["solid", "7 4", "solid", "7 4", "solid", "7 4"]
INK = "#262626"
FONT = "Liberation Sans"
SERIF = "DejaVu Serif"
PANEL_H = 950
CAP_H = 128


def style_axis(ax, ticks, labelled, tick_len):
    ax.ticker = FixedTicker(ticks=ticks)
    ax.axis_line_color = INK
    ax.axis_line_width = 3.5
    ax.major_tick_line_color = INK
    ax.major_tick_line_width = 3.5
    ax.major_tick_in = tick_len
    ax.major_tick_out = 0
    ax.minor_tick_line_color = None
    if labelled:
        ax.major_label_text_font = FONT
        ax.major_label_text_font_size = "46px"
        ax.major_label_text_color = INK
        ax.axis_label_text_font = FONT
        ax.axis_label_text_font_style = "bold"
        ax.axis_label_text_font_size = "52px"
        ax.axis_label_text_color = INK
    else:
        ax.major_label_text_color = None
        ax.major_label_text_font_size = "1px"
        ax.major_label_standoff = 0


def make_panel(series, left, right):
    p = figure(width=left + 1433 + right, height=PANEL_H,
               x_range=Range1d(0, 900), y_range=Range1d(0, 1),
               output_backend="svg", toolbar_location=None,
               min_border_left=left, min_border_right=right,
               min_border_top=30, min_border_bottom=PANEL_H - 30 - 770)
    p.outline_line_color = None
    p.background_fill_color = "white"
    p.border_fill_color = "white"

    style_axis(p.xaxis[0], X_TICKS, True, 14)
    p.xaxis[0].axis_label = "N [clock cycles]"
    p.xaxis[0].major_label_standoff = 36
    p.xaxis[0].axis_label_standoff = 6

    style_axis(p.yaxis[0], Y_TICKS, True, 17)
    p.yaxis[0].axis_label = "Pout [mW]"
    p.yaxis[0].major_label_overrides = Y_TICK_LABELS
    p.yaxis[0].major_label_standoff = 13
    p.yaxis[0].axis_label_standoff = 5

    top_ax = LinearAxis()
    style_axis(top_ax, X_TICKS, False, 14)
    p.add_layout(top_ax, "above")
    right_ax = LinearAxis()
    style_axis(right_ax, Y_TICKS, False, 17)
    p.add_layout(right_ax, "right")

    p.xgrid.ticker = FixedTicker(ticks=X_TICKS)
    p.ygrid.ticker = FixedTicker(ticks=Y_TICKS)
    for g in (p.xgrid, p.ygrid):
        g.grid_line_color = "#c8c8c8"
        g.grid_line_width = 3

    items = []
    for lbl, col, dash, pts in zip(SERIES_LABELS, COLORS, DASHES, series):
        xs = [a for a, b in pts]
        ys = [b for a, b in pts]
        r = p.line(xs, ys, line_color=col, line_width=2.3, line_dash=dash)
        items.append(LegendItem(label=lbl, renderers=[r]))

    leg = Legend(items=items, location="top_right")
    leg.margin = 5
    leg.padding = 3
    leg.spacing = 0
    leg.glyph_width = 30
    leg.glyph_height = 30
    leg.label_height = 30
    leg.label_standoff = 4
    leg.label_text_font = FONT
    leg.label_text_font_size = "43px"
    leg.label_text_color = "#1a1a1a"
    leg.border_line_color = "#1a1a1a"
    leg.border_line_width = 3.5
    leg.background_fill_color = "white"
    leg.background_fill_alpha = 1.0
    p.add_layout(leg)
    return p


def make_caption(caption, width, start_x):
    c = figure(width=width, height=CAP_H, x_range=Range1d(0, width), y_range=Range1d(0, CAP_H),
               output_backend="svg", toolbar_location=None,
               x_axis_type=None, y_axis_type=None,
               min_border=0, min_border_left=0, min_border_right=0,
               min_border_top=0, min_border_bottom=0)
    c.outline_line_color = None
    c.xgrid.visible = False
    c.ygrid.visible = False
    c.border_fill_color = "white"
    c.background_fill_color = "white"
    letter, rest, sup = caption
    base_y = 38
    common = dict(text_font=SERIF, text_color="#1a1a1a", text_baseline="alphabetic",
                  text_align="left", x=start_x)
    c.add_layout(Label(y=base_y, text="(", text_font_size="64px", **common))
    c.add_layout(Label(y=base_y, x_offset=25, text=letter, text_font_size="64px",
                       text_font_style="bold", **common))
    c.add_layout(Label(y=base_y, x_offset=68, text=rest, text_font_size="64px", **common))
    c.add_layout(Label(y=base_y + 32, x_offset=405, text=sup, text_font_size="42px", **common))
    return c


pa = make_panel(PANEL_A, 152, 49)
pb = make_panel(PANEL_B, 142, 44)
ca = make_caption(CAPTION_A, 152 + 1433 + 49, 600)
cb = make_caption(CAPTION_B, 142 + 1433 + 44, 588)
layout = column(row(pa, pb), row(ca, cb))

open("out.html", "w").write(file_html(layout, INLINE))
